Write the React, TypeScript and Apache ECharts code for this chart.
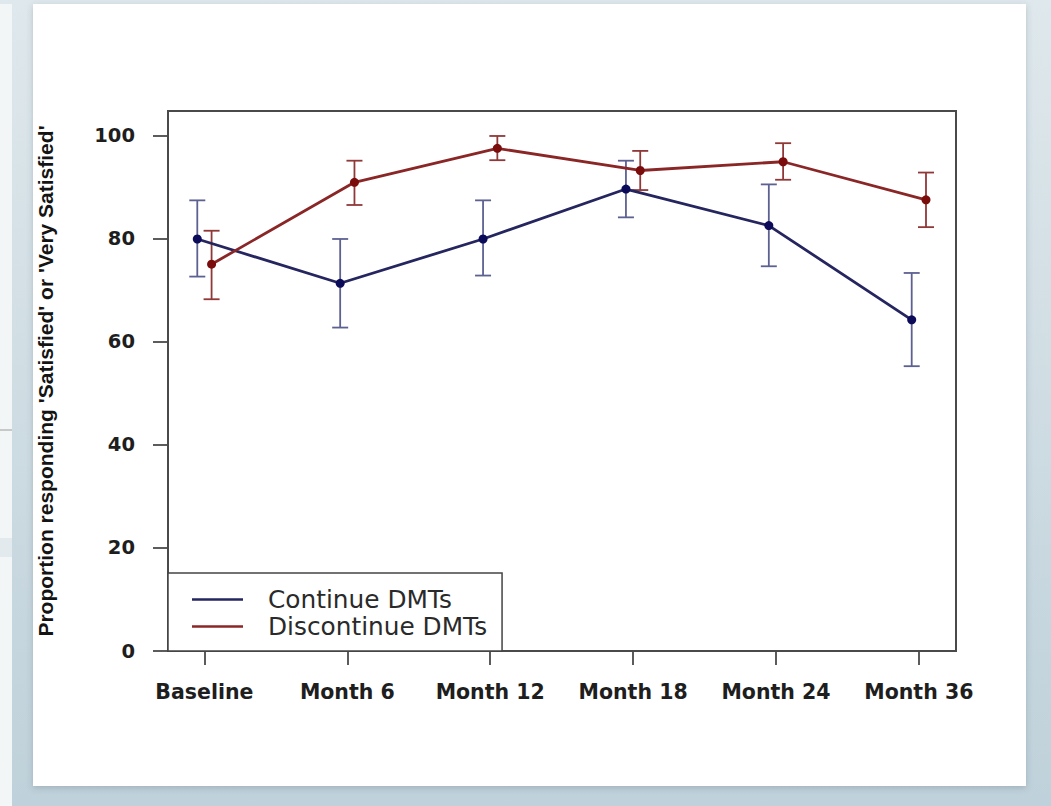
import React, { useEffect, useRef } from "react";
import * as echarts from "echarts";

const categories = ["Baseline", "Month 6", "Month 12", "Month 18", "Month 24", "Month 36"];
const yTicks = [0, 20, 40, 60, 80, 100];
const xTicks = [1, 2, 3, 4, 5, 6];

const continueMean = [80.0, 71.4, 80.0, 89.7, 82.6, 64.3];
const continueLow = [72.7, 62.8, 72.9, 84.2, 74.7, 55.3];
const continueHigh = [87.5, 80.0, 87.5, 95.2, 90.6, 73.4];

const discontinueMean = [75.1, 91.0, 97.6, 93.3, 95.0, 87.6];
const discontinueLow = [68.3, 86.6, 95.3, 89.5, 91.5, 82.3];
const discontinueHigh = [81.6, 95.2, 100.0, 97.1, 98.6, 92.9];

const seriesNames = ["Continue DMTs", "Discontinue DMTs"];
const yTitle = "Proportion responding 'Satisfied' or 'Very Satisfied'";

const DODGE = 0.05;
const BLUE_LINE = "#25255f";
const BLUE_PT = "#0b0b5a";
const BLUE_ERR = "#5d6192";
const RED_LINE = "#8b2626";
const RED_PT = "#7a0c0c";
const RED_ERR = "#903838";

function errRender(color: string) {
  return (params: any, api: any) => {
    const x = api.value(0);
    const p1 = api.coord([x, api.value(1)]);
    const p2 = api.coord([x, api.value(2)]);
    const w = 8;
    const style = { stroke: color, lineWidth: 1.8 };
    return {
      type: "group",
      children: [
        { type: "line", shape: { x1: p1[0], y1: p1[1], x2: p2[0], y2: p2[1] }, style },
        { type: "line", shape: { x1: p1[0] - w, y1: p1[1], x2: p1[0] + w, y2: p1[1] }, style },
        { type: "line", shape: { x1: p2[0] - w, y1: p2[1], x2: p2[0] + w, y2: p2[1] }, style },
      ],
    };
  };
}

export default function App() {
  const ref = useRef<HTMLDivElement>(null);
  useEffect(() => {
    if (!ref.current) return;
    const chart = echarts.init(ref.current, undefined, { renderer: "svg" });

    const contPts = categories.map((_, i) => [i + 1 - DODGE, continueMean[i]]);
    const discPts = categories.map((_, i) => [i + 1 + DODGE, discontinueMean[i]]);
    const contErr = categories.map((_, i) => [i + 1 - DODGE, continueLow[i], continueHigh[i]]);
    const discErr = categories.map((_, i) => [i + 1 + DODGE, discontinueLow[i], discontinueHigh[i]]);

    const option: any = {
      animation: false,
      backgroundColor: "#d3e0e6",
      graphic: {
        elements: [
          {
            type: "rect",
            z: -100,
            shape: { x: 0, y: 0, width: 1051, height: 806 },
            style: {
              fill: {
                type: "linear", x: 0, y: 0, x2: 0, y2: 1,
                colorStops: [
                  { offset: 0, color: "#dfe8ec" },
                  { offset: 1, color: "#bfd1da" },
                ],
              },
            },
          },
          { type: "rect", z: -99, shape: { x: 0, y: 4, width: 12, height: 802 }, style: { fill: "#f3f6f7" } },
          { type: "rect", z: -98, shape: { x: 0, y: 538, width: 12, height: 19 }, style: { fill: "#e2eaee" } },
          { type: "line", z: -98, shape: { x1: 0, y1: 430, x2: 12, y2: 430 }, style: { stroke: "#b8b8b8", lineWidth: 1.5 } },
          {
            type: "rect",
            z: -97,
            shape: { x: 33, y: 4, width: 993, height: 782 },
            style: { fill: "#ffffff", shadowBlur: 6, shadowColor: "rgba(60,80,90,0.25)", shadowOffsetY: 2 },
          },
        ],
      },
      grid: {
        left: 168,
        top: 111,
        width: 788,
        height: 540,
        show: true,
        borderColor: "#4a4a4a",
        borderWidth: 2,
        backgroundColor: "transparent",
      },
      legend: {
        orient: "vertical",
        left: 168,
        top: 573,
        padding: [14, 15, 12, 24],
        itemGap: 2,
        itemWidth: 51,
        itemHeight: 2.5,
        borderColor: "#444",
        borderWidth: 1.5,
        backgroundColor: "#ffffff",
        textStyle: {
          fontFamily: "DejaVu Sans",
          fontSize: 24.8,
          color: "#2a2a2a",
          padding: [0, 0, 0, 20],
        },
        data: [
          { name: seriesNames[0], icon: "rect", itemStyle: { color: BLUE_LINE } },
          { name: seriesNames[1], icon: "rect", itemStyle: { color: RED_LINE } },
        ],
      },
      xAxis: {
        type: "value",
        min: 0.745,
        max: 6.26,
        axisLine: { show: false },
        splitLine: { show: false },
        axisTick: {
          show: true,
          length: 14,
          customValues: xTicks,
          lineStyle: { color: "#4a4a4a", width: 1.8 },
        },
        axisLabel: {
          customValues: xTicks,
          margin: 30,
          fontFamily: "DejaVu Sans",
          fontWeight: "bold",
          fontSize: 20.5,
          color: "#1e1e1e",
          formatter: (v: number) => categories[Math.round(v) - 1] ?? "",
        },
      },
      yAxis: {
        type: "value",
        min: 0,
        max: 104.85,
        axisLine: { show: false },
        splitLine: { show: false },
        axisTick: {
          show: true,
          length: 15,
          customValues: yTicks,
          lineStyle: { color: "#4a4a4a", width: 1.8 },
        },
        axisLabel: {
          customValues: yTicks,
          margin: 33,
          fontFamily: "DejaVu Sans",
          fontWeight: "bold",
          fontSize: 19.5,
          color: "#1e1e1e",
        },
        name: yTitle,
        nameLocation: "middle",
        nameRotate: 90,
        nameGap: 112,
        nameTextStyle: {
          fontFamily: "Liberation Sans",
          fontWeight: "bold",
          fontSize: 21,
          color: "#141414",
        },
      },
      series: [
        {
          type: "custom",
          name: seriesNames[0] + " CI",
          renderItem: errRender(BLUE_ERR),
          data: contErr,
          encode: { x: 0, y: [1, 2] },
          z: 1,
          silent: true,
        },
        {
          type: "custom",
          name: seriesNames[1] + " CI",
          renderItem: errRender(RED_ERR),
          data: discErr,
          encode: { x: 0, y: [1, 2] },
          z: 1,
          silent: true,
        },
        {
          type: "line",
          name: seriesNames[0],
          data: contPts,
          symbol: "circle",
          symbolSize: 9,
          lineStyle: { color: BLUE_LINE, width: 2.8 },
          itemStyle: { color: BLUE_PT },
          z: 3,
        },
        {
          type: "line",
          name: seriesNames[1],
          data: discPts,
          symbol: "circle",
          symbolSize: 9,
          lineStyle: { color: RED_LINE, width: 2.8 },
          itemStyle: { color: RED_PT },
          z: 3,
        },
      ],
    };
    chart.setOption(option);
    return () => chart.dispose();
  }, []);

  return (
    <div
      ref={ref}
      style={{ position: "absolute", left: 0, top: 0, width: 1051, height: 806 }}
    />
  );
}
